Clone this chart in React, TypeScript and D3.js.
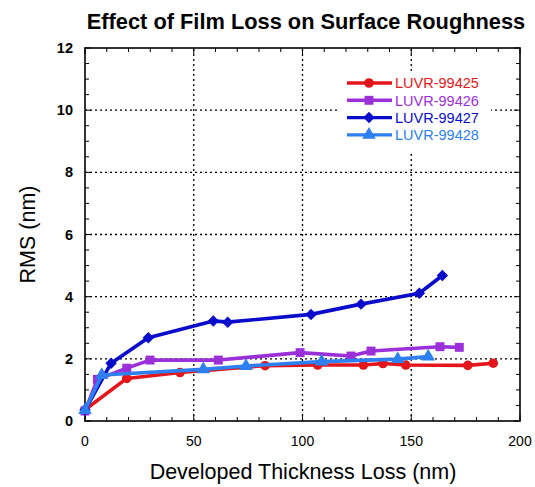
import React from 'react';
import * as d3 from 'd3';

// thickness loss (nm) / RMS (nm)
const x99425 = [0, 19.2, 43.7, 82.8, 107, 128, 137, 147.5, 176, 187.7];
const y99425 = [0.36, 1.37, 1.56, 1.78, 1.8, 1.8, 1.85, 1.8, 1.79, 1.86];
const x99426 = [0, 5.7, 19.2, 29.9, 61.3, 98.9, 122.3, 131.5, 163.2, 172.1];
const y99426 = [0.32, 1.34, 1.7, 1.96, 1.96, 2.2, 2.09, 2.25, 2.39, 2.37];
const x99427 = [0, 12, 29.1, 59, 65.6, 103.9, 126.9, 153.7, 164.3];
const y99427 = [0.35, 1.86, 2.68, 3.22, 3.18, 3.43, 3.76, 4.11, 4.68];
const x99428 = [0, 7.7, 54.4, 74, 108.8, 143.8, 157.8];
const y99428 = [0.35, 1.48, 1.66, 1.77, 1.91, 1.99, 2.07];

const seriesNames = ['LUVR-99425', 'LUVR-99426', 'LUVR-99427', 'LUVR-99428'];
const xTicks = [0, 50, 100, 150, 200];
const yTicks = [0, 2, 4, 6, 8, 10, 12];

const colors = ['#e3161b', '#9b30d9', '#0a0ccc', '#2e7ff0'];
const shapes = [d3.symbolCircle, d3.symbolSquare, d3.symbolSquare, d3.symbolTriangle];
const shapeSizes = [72, 80, 66, 80];
const shapeRot = [0, 0, 45, 0];

const series = [
  { name: seriesNames[0], xs: x99425, ys: y99425 },
  { name: seriesNames[1], xs: x99426, ys: y99426 },
  { name: seriesNames[2], xs: x99427, ys: y99427 },
  { name: seriesNames[3], xs: x99428, ys: y99428 },
];

const W = 535, H = 487;
const m = { left: 85, right: 15, top: 48, bottom: 66 };
const font = 'Liberation Sans, Arial, Helvetica, sans-serif';

export default function App() {
  const x = d3.scaleLinear().domain([0, 200]).range([m.left, W - m.right]);
  const y = d3.scaleLinear().domain([0, 12]).range([H - m.bottom, m.top]);
  const line = d3.line<[number, number]>().x(d => x(d[0])).y(d => y(d[1]));

  const xMinor = d3.range(0, 201, 10);
  const yMinor = d3.range(0, 12.01, 0.5);
  const [x0, x1] = x.range();
  const [y0, y1] = y.range();

  const lx = 347, ly = 83, lstep = 17.3;

  return (
    <svg width={W} height={H} style={{ position: 'absolute', left: 0, top: 0 }} fontFamily={font}>
      <rect width={W} height={H} fill="#fff" />
      <text x={306} y={29} textAnchor="middle" fontSize={21.8} fontWeight="bold">
        Effect of Film Loss on Surface Roughness
      </text>

      {/* grid */}
      {xTicks.slice(1, -1).map(t => (
        <line key={'gx' + t} x1={x(t)} x2={x(t)} y1={y0} y2={y1} stroke="#000" strokeWidth={1.3} strokeDasharray="2,3" />
      ))}
      {yTicks.slice(1, -1).map(t => (
        <line key={'gy' + t} x1={x0} x2={x1} y1={y(t)} y2={y(t)} stroke="#000" strokeWidth={1.3} strokeDasharray="2,3" />
      ))}

      {/* ticks */}
      {xMinor.map(t => {
        const len = t % 50 === 0 ? 6 : 4;
        return (
          <g key={'tx' + t}>
            <line x1={x(t)} x2={x(t)} y1={y0} y2={y0 - len} stroke="#000" strokeWidth={1} />
            <line x1={x(t)} x2={x(t)} y1={y1} y2={y1 + len} stroke="#000" strokeWidth={1} />
          </g>
        );
      })}
      {yMinor.map(t => {
        const len = t % 2 === 0 ? 6 : 4;
        return (
          <g key={'ty' + t}>
            <line x1={x0} x2={x0 + len} y1={y(t)} y2={y(t)} stroke="#000" strokeWidth={1} />
            <line x1={x1} x2={x1 - len} y1={y(t)} y2={y(t)} stroke="#000" strokeWidth={1} />
          </g>
        );
      })}

      <rect x={x0} y={y1} width={x1 - x0} height={y0 - y1} fill="none" stroke="#000" strokeWidth={1.6} />

      {xTicks.map(t => (
        <text key={'lx' + t} x={x(t)} y={446} textAnchor="middle" fontSize={14}>{t}</text>
      ))}
      {yTicks.map(t => (
        <text key={'ly' + t} x={73} y={y(t)} dy="0.35em" textAnchor="end" fontSize={14.5} fontWeight="bold">{t}</text>
      ))}

      <text x={303} y={479} textAnchor="middle" fontSize={21.5}>Developed Thickness Loss (nm)</text>
      <text transform={`translate(35,${(y0 + y1) / 2}) rotate(-90)`} textAnchor="middle" fontSize={21.5}>RMS (nm)</text>

      {/* data */}
      {series.map((s, i) => {
        const pts = s.xs.map((v, j) => [v, s.ys[j]] as [number, number]);
        const sym = d3.symbol().type(shapes[i]).size(shapeSizes[i]);
        return (
          <g key={s.name}>
            <path d={line(pts) || ''} fill="none" stroke={colors[i]} strokeWidth={3.6} strokeLinejoin="round" />
            {pts.map((p, j) => (
              <path key={j} d={sym() || ''} transform={`translate(${x(p[0])},${y(p[1])}) rotate(${shapeRot[i]})`} fill={colors[i]} />
            ))}
          </g>
        );
      })}

      {/* legend */}
      <rect x={339} y={71} width={152} height={80} fill="#fff" />
      {series.map((s, i) => {
        const yy = ly + i * lstep;
        const sym = d3.symbol().type(shapes[i]).size(shapeSizes[i]);
        return (
          <g key={'lg' + s.name}>
            <line x1={lx} x2={lx + 45} y1={yy} y2={yy} stroke={colors[i]} strokeWidth={3.4} />
            <path d={sym() || ''} transform={`translate(${lx + 22},${yy}) rotate(${shapeRot[i]})`} fill={colors[i]} />
            <text x={lx + 48} y={yy} dy="0.36em" fontSize={14.5} fill={colors[i]}>{s.name}</text>
          </g>
        );
      })}
    </svg>
  );
}
